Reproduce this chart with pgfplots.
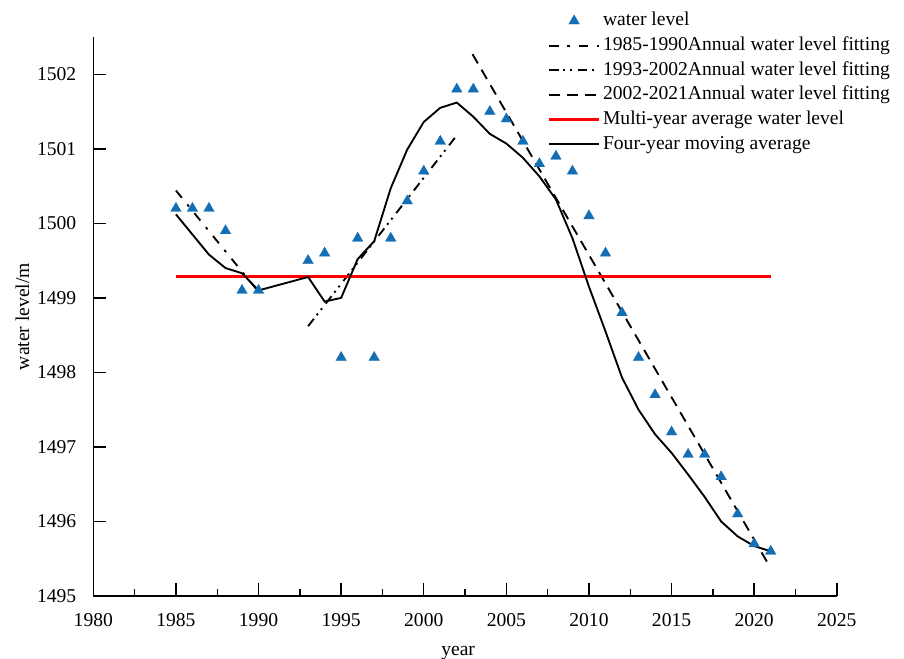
\documentclass[border=0pt]{standalone}
\usepackage{fontspec}
\setmainfont{Liberation Serif}
\usepackage{pgfplots}
\pgfplotsset{compat=1.18}
\definecolor{wlblue}{RGB}{20,110,180}
\begin{document}
\begin{tikzpicture}
\path[use as bounding box] (-70pt,-47.25pt) rectangle (608pt,447pt);
\begin{axis}[
  at={(0pt,0pt)}, anchor=south west,
  scale only axis, width=557.6pt, height=419.25pt,
  xmin=1980, xmax=2025, ymin=1495, ymax=1502.5,
  axis x line*=bottom, axis y line*=left,
  axis line style={line width=1.1pt,-},
  every tick/.style={black,line width=1.1pt},
  tick align=inside,
  major tick length=9.75pt, minor tick length=5.25pt,
  xtick={1980,1985,...,2025}, ytick={1495,1496,...,1502},
  minor x tick num=1, minor y tick num=1,
  /pgf/number format/assume math mode=true,
  /pgf/number format/set thousands separator={},
  tick label style={font=\fontsize{14.7}{17}\selectfont},
  xticklabel style={anchor=base, yshift=-23.25pt},
  yticklabel style={anchor=east, inner xsep=0pt, xshift=-12.6pt},
  label style={font=\fontsize{14.7}{17}\selectfont},
  xlabel={year}, ylabel={water level/m},
  xlabel style={at={(axis description cs:0.4907,-0.1073)}, anchor=base},
  ylabel style={at={(axis description cs:-0.0955,0.5)}, anchor=center, rotate=0},
  legend cell align=left,
  legend style={draw=none, fill=none, at={(axis description cs:0.611,1.0465)}, anchor=north west,
    font=\fontsize{14.7}{17}\selectfont, inner sep=0pt, row sep=4pt,
    nodes={inner ysep=0pt, inner xsep=2pt, text height=11pt, text depth=3.5pt}},
  legend image code/.code={\draw[mark repeat=2,mark phase=2,#1] plot coordinates {(0pt,0pt) (18.5pt,0pt) (37pt,0pt)};},
]
\addplot[only marks, mark=triangle*, mark size=4.6pt, mark options={fill=wlblue, draw=wlblue, line width=0.2pt}] coordinates {
(1985,1500.2)(1986,1500.2)(1987,1500.2)(1988,1499.9)(1989,1499.1)(1990,1499.1)
(1993,1499.5)(1994,1499.6)(1995,1498.2)(1996,1499.8)(1997,1498.2)(1998,1499.8)
(1999,1500.3)(2000,1500.7)(2001,1501.1)(2002,1501.8)(2003,1501.8)(2004,1501.5)
(2005,1501.4)(2006,1501.1)(2007,1500.8)(2008,1500.9)(2009,1500.7)(2010,1500.1)
(2011,1499.6)(2012,1498.8)(2013,1498.2)(2014,1497.7)(2015,1497.2)(2016,1496.9)
(2017,1496.9)(2018,1496.6)(2019,1496.1)(2020,1495.7)(2021,1495.6)};
\addlegendentry{water level}
\addplot[black, line width=1.4pt, dash pattern=on 7pt off 6.5pt on 2pt off 6.5pt] coordinates {(1985,1500.44)(1990,1499.08)};
\addlegendentry{1985-1990Annual water level fitting}
\addplot[black, line width=1.4pt, dash pattern=on 7pt off 3.5pt on 1.5pt off 3.5pt on 1.5pt off 4.5pt] coordinates {(1993,1498.62)(2002,1501.18)};
\addlegendentry{1993-2002Annual water level fitting}
\addplot[black, line width=1.4pt, dash pattern=on 8pt off 5.5pt] coordinates {(2002.95,1502.27)(2020.8,1495.45)};
\addlegendentry{2002-2021Annual water level fitting}
\addplot[red, line width=2.4pt] coordinates {(1985,1499.29)(2021,1499.29)};
\addlegendentry{Multi-year average water level}
\addplot[black, line width=1.4pt] coordinates {
(1985,1500.12)(1986,1499.85)(1987,1499.58)(1988,1499.40)(1989,1499.33)(1990,1499.10)
(1993,1499.28)(1994,1498.95)(1995,1499.00)(1996,1499.52)(1997,1499.76)(1998,1500.47)
(1999,1500.99)(2000,1501.36)(2001,1501.55)(2002,1501.62)(2003,1501.43)(2004,1501.20)
(2005,1501.07)(2006,1500.88)(2007,1500.63)(2008,1500.32)(2009,1499.80)(2010,1499.15)
(2011,1498.55)(2012,1497.93)(2013,1497.50)(2014,1497.17)(2015,1496.92)(2016,1496.63)
(2017,1496.33)(2018,1496.00)(2019,1495.80)(2020,1495.67)(2021,1495.60)};
\addlegendentry{Four-year moving average}
\end{axis}
\end{tikzpicture}
\end{document}
